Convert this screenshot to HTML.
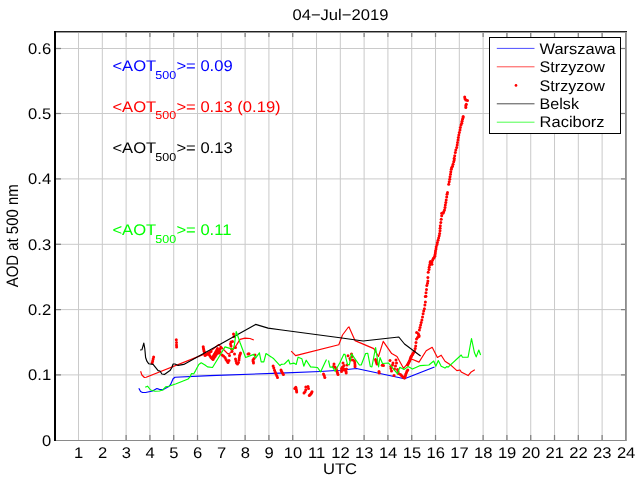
<!DOCTYPE html>
<html><head><meta charset="utf-8"><title>04-Jul-2019</title>
<style>html,body{margin:0;padding:0;background:#fff;width:640px;height:480px;overflow:hidden}svg{display:block;will-change:transform;opacity:0.999}text{font-family:"Liberation Sans",sans-serif;text-rendering:geometricPrecision;}</style></head><body>
<svg width="640" height="480" viewBox="0 0 640 480">
<rect x="0" y="0" width="640" height="480" fill="#fff"/>
<g stroke="#cacaca" stroke-width="1" fill="none">
<line x1="78.52" y1="32" x2="78.52" y2="440"/>
<line x1="102.32" y1="32" x2="102.32" y2="440"/>
<line x1="126.12" y1="32" x2="126.12" y2="440"/>
<line x1="149.92" y1="32" x2="149.92" y2="440"/>
<line x1="173.72" y1="32" x2="173.72" y2="440"/>
<line x1="197.52" y1="32" x2="197.52" y2="440"/>
<line x1="221.32" y1="32" x2="221.32" y2="440"/>
<line x1="245.12" y1="32" x2="245.12" y2="440"/>
<line x1="268.92" y1="32" x2="268.92" y2="440"/>
<line x1="292.72" y1="32" x2="292.72" y2="440"/>
<line x1="316.52" y1="32" x2="316.52" y2="440"/>
<line x1="340.32" y1="32" x2="340.32" y2="440"/>
<line x1="364.12" y1="32" x2="364.12" y2="440"/>
<line x1="387.92" y1="32" x2="387.92" y2="440"/>
<line x1="411.72" y1="32" x2="411.72" y2="440"/>
<line x1="435.52" y1="32" x2="435.52" y2="440"/>
<line x1="459.32" y1="32" x2="459.32" y2="440"/>
<line x1="483.12" y1="32" x2="483.12" y2="440"/>
<line x1="506.92" y1="32" x2="506.92" y2="440"/>
<line x1="530.72" y1="32" x2="530.72" y2="440"/>
<line x1="554.52" y1="32" x2="554.52" y2="440"/>
<line x1="578.32" y1="32" x2="578.32" y2="440"/>
<line x1="602.12" y1="32" x2="602.12" y2="440"/>
<line x1="56" y1="374.90" x2="626" y2="374.90"/>
<line x1="56" y1="309.60" x2="626" y2="309.60"/>
<line x1="56" y1="244.30" x2="626" y2="244.30"/>
<line x1="56" y1="178.90" x2="626" y2="178.90"/>
<line x1="56" y1="113.50" x2="626" y2="113.50"/>
<line x1="56" y1="48.50" x2="626" y2="48.50"/>
</g>
<g stroke="#808080" stroke-width="1.25" fill="none">
<line x1="126.12" y1="435" x2="126.12" y2="440"/>
<line x1="126.12" y1="32" x2="126.12" y2="37"/>
<line x1="149.92" y1="435" x2="149.92" y2="440"/>
<line x1="149.92" y1="32" x2="149.92" y2="37"/>
<line x1="173.72" y1="435" x2="173.72" y2="440"/>
<line x1="173.72" y1="32" x2="173.72" y2="37"/>
<line x1="197.52" y1="435" x2="197.52" y2="440"/>
<line x1="197.52" y1="32" x2="197.52" y2="37"/>
<line x1="245.12" y1="435" x2="245.12" y2="440"/>
<line x1="245.12" y1="32" x2="245.12" y2="37"/>
<line x1="268.92" y1="435" x2="268.92" y2="440"/>
<line x1="268.92" y1="32" x2="268.92" y2="37"/>
<line x1="292.72" y1="435" x2="292.72" y2="440"/>
<line x1="292.72" y1="32" x2="292.72" y2="37"/>
<line x1="364.12" y1="435" x2="364.12" y2="440"/>
<line x1="364.12" y1="32" x2="364.12" y2="37"/>
<line x1="387.92" y1="435" x2="387.92" y2="440"/>
<line x1="387.92" y1="32" x2="387.92" y2="37"/>
<line x1="411.72" y1="435" x2="411.72" y2="440"/>
<line x1="411.72" y1="32" x2="411.72" y2="37"/>
<line x1="435.52" y1="435" x2="435.52" y2="440"/>
<line x1="435.52" y1="32" x2="435.52" y2="37"/>
<line x1="483.12" y1="435" x2="483.12" y2="440"/>
<line x1="483.12" y1="32" x2="483.12" y2="37"/>
<line x1="506.92" y1="435" x2="506.92" y2="440"/>
<line x1="506.92" y1="32" x2="506.92" y2="37"/>
<line x1="530.72" y1="435" x2="530.72" y2="440"/>
<line x1="530.72" y1="32" x2="530.72" y2="37"/>
<line x1="554.52" y1="435" x2="554.52" y2="440"/>
<line x1="554.52" y1="32" x2="554.52" y2="37"/>
<line x1="578.32" y1="435" x2="578.32" y2="440"/>
<line x1="578.32" y1="32" x2="578.32" y2="37"/>
<line x1="602.12" y1="435" x2="602.12" y2="440"/>
<line x1="602.12" y1="32" x2="602.12" y2="37"/>
<line x1="621" y1="374.90" x2="626" y2="374.90"/>
<line x1="56" y1="374.90" x2="61" y2="374.90"/>
<line x1="621" y1="309.60" x2="626" y2="309.60"/>
<line x1="56" y1="309.60" x2="61" y2="309.60"/>
<line x1="621" y1="244.30" x2="626" y2="244.30"/>
<line x1="56" y1="244.30" x2="61" y2="244.30"/>
<line x1="621" y1="178.90" x2="626" y2="178.90"/>
<line x1="56" y1="178.90" x2="61" y2="178.90"/>
<line x1="621" y1="113.50" x2="626" y2="113.50"/>
<line x1="56" y1="113.50" x2="61" y2="113.50"/>
<line x1="621" y1="48.50" x2="626" y2="48.50"/>
<line x1="56" y1="48.50" x2="61" y2="48.50"/>
</g>
<g shape-rendering="crispEdges">
<rect x="56" y="440" width="571" height="1" fill="#8a8a8a"/>
<rect x="625" y="32" width="1" height="409" fill="#8c8c8c"/>
<rect x="626" y="32" width="1" height="409" fill="#a0a0a0"/>
<rect x="54" y="31" width="573" height="1" fill="#222"/>
<rect x="56" y="32" width="571" height="1" fill="#9a9a9a"/>
<rect x="54" y="31" width="2" height="410" fill="#000"/>
</g>
<g fill="none" stroke-width="1.15" stroke-linejoin="round" stroke-linecap="butt">
<polyline stroke="#0000ff" points="138.8,388.3 140.6,391.5 142.5,392.5 145.6,392.5 152.5,391.0 156.9,388.5 159.4,389.4 162.8,389.8 168.8,386.5 170.6,384.4 173.1,378.8 175.0,377.2 210.0,375.6 280.0,373.1 320.0,371.5 340.0,370.3 356.5,368.5 404.5,378.8 434.5,367.0"/>
<polyline stroke="#ff0000" points="140.6,371.2 141.9,375.0 144.4,377.5 146.2,377.2 210.0,351.9 218.6,344.5 228.0,354.0 231.0,352.5 234.4,348.0 236.9,344.4 240.0,339.4 245.0,338.1 250.0,338.5 253.8,340.0"/>
<polyline stroke="#ff0000" points="291.2,351.2 295.6,355.6 338.8,344.8 342.5,335.0 348.1,327.5 349.0,326.9 355.0,340.6 373.8,348.6 378.5,356.5 383.2,341.4 391.7,353.6 397.0,356.5 403.5,368.3 411.5,359.0 419.0,362.1 426.2,350.7 432.2,347.3 437.4,357.5 441.2,355.2 445.0,361.2 450.0,364.4 456.9,370.6 460.0,370.0 461.2,371.9 468.1,375.6 471.2,371.9 474.8,369.8"/>
</g>
<g fill="#ff0000">
<circle cx="153.6" cy="356.9" r="1.5"/>
<circle cx="153.1" cy="359.0" r="1.5"/>
<circle cx="152.7" cy="360.9" r="1.5"/>
<circle cx="152.2" cy="362.8" r="1.5"/>
<circle cx="176.3" cy="339.8" r="1.5"/>
<circle cx="176.5" cy="342.5" r="1.5"/>
<circle cx="176.5" cy="345.0" r="1.5"/>
<circle cx="176.6" cy="347.1" r="1.5"/>
<circle cx="203.2" cy="346.8" r="1.5"/>
<circle cx="203.5" cy="348.5" r="1.5"/>
<circle cx="203.8" cy="350.0" r="1.5"/>
<circle cx="204.2" cy="351.5" r="1.5"/>
<circle cx="204.8" cy="352.8" r="1.5"/>
<circle cx="205.0" cy="355.5" r="1.5"/>
<circle cx="206.2" cy="354.7" r="1.5"/>
<circle cx="207.4" cy="353.9" r="1.5"/>
<circle cx="208.6" cy="353.1" r="1.5"/>
<circle cx="209.8" cy="352.3" r="1.5"/>
<circle cx="211.0" cy="351.5" r="1.5"/>
<circle cx="212.0" cy="358.5" r="1.5"/>
<circle cx="212.8" cy="357.1" r="1.5"/>
<circle cx="213.6" cy="355.7" r="1.5"/>
<circle cx="214.4" cy="354.3" r="1.5"/>
<circle cx="215.2" cy="352.9" r="1.5"/>
<circle cx="216.0" cy="351.5" r="1.5"/>
<circle cx="216.8" cy="350.0" r="1.5"/>
<circle cx="217.5" cy="348.5" r="1.5"/>
<circle cx="214.0" cy="358.0" r="1.5"/>
<circle cx="215.0" cy="356.5" r="1.5"/>
<circle cx="216.0" cy="355.0" r="1.5"/>
<circle cx="217.0" cy="353.5" r="1.5"/>
<circle cx="218.0" cy="352.0" r="1.5"/>
<circle cx="219.0" cy="350.5" r="1.5"/>
<circle cx="220.0" cy="349.0" r="1.5"/>
<circle cx="221.0" cy="347.5" r="1.5"/>
<circle cx="210.0" cy="356.0" r="1.5"/>
<circle cx="211.0" cy="357.5" r="1.5"/>
<circle cx="213.0" cy="359.5" r="1.5"/>
<circle cx="209.0" cy="354.5" r="1.5"/>
<circle cx="219.0" cy="353.0" r="1.5"/>
<circle cx="220.0" cy="352.0" r="1.5"/>
<circle cx="222.0" cy="355.0" r="1.5"/>
<circle cx="223.5" cy="356.0" r="1.5"/>
<circle cx="225.0" cy="357.5" r="1.5"/>
<circle cx="226.0" cy="359.5" r="1.5"/>
<circle cx="227.0" cy="361.0" r="1.5"/>
<circle cx="228.0" cy="362.5" r="1.5"/>
<circle cx="229.0" cy="360.5" r="1.5"/>
<circle cx="229.5" cy="355.5" r="1.5"/>
<circle cx="233.5" cy="334.0" r="1.5"/>
<circle cx="234.0" cy="336.5" r="1.5"/>
<circle cx="231.0" cy="342.0" r="1.5"/>
<circle cx="230.5" cy="344.0" r="1.5"/>
<circle cx="232.5" cy="341.5" r="1.5"/>
<circle cx="231.0" cy="346.0" r="1.5"/>
<circle cx="231.5" cy="349.0" r="1.5"/>
<circle cx="232.0" cy="351.5" r="1.5"/>
<circle cx="234.5" cy="354.0" r="1.5"/>
<circle cx="235.5" cy="347.5" r="1.5"/>
<circle cx="235.5" cy="359.0" r="1.5"/>
<circle cx="236.0" cy="361.0" r="1.5"/>
<circle cx="236.5" cy="363.0" r="1.5"/>
<circle cx="237.5" cy="364.0" r="1.5"/>
<circle cx="238.5" cy="362.5" r="1.5"/>
<circle cx="239.0" cy="360.0" r="1.5"/>
<circle cx="239.2" cy="358.0" r="1.5"/>
<circle cx="239.5" cy="356.0" r="1.5"/>
<circle cx="240.0" cy="354.5" r="1.5"/>
<circle cx="240.5" cy="353.0" r="1.5"/>
<circle cx="248.0" cy="354.0" r="1.5"/>
<circle cx="249.0" cy="353.8" r="1.5"/>
<circle cx="255.0" cy="355.0" r="1.5"/>
<circle cx="254.0" cy="358.5" r="1.5"/>
<circle cx="253.0" cy="360.0" r="1.5"/>
<circle cx="253.2" cy="361.5" r="1.5"/>
<circle cx="253.5" cy="363.0" r="1.5"/>
<circle cx="273.1" cy="366.0" r="1.5"/>
<circle cx="273.8" cy="368.0" r="1.5"/>
<circle cx="274.5" cy="370.2" r="1.5"/>
<circle cx="275.3" cy="372.2" r="1.5"/>
<circle cx="276.0" cy="374.0" r="1.5"/>
<circle cx="276.8" cy="375.7" r="1.5"/>
<circle cx="277.5" cy="377.5" r="1.5"/>
<circle cx="281.0" cy="370.0" r="1.5"/>
<circle cx="281.6" cy="371.5" r="1.5"/>
<circle cx="282.5" cy="373.1" r="1.5"/>
<circle cx="283.4" cy="374.4" r="1.5"/>
<circle cx="294.8" cy="388.5" r="1.5"/>
<circle cx="295.8" cy="387.2" r="1.5"/>
<circle cx="296.2" cy="389.0" r="1.5"/>
<circle cx="296.5" cy="390.5" r="1.5"/>
<circle cx="296.7" cy="392.0" r="1.5"/>
<circle cx="305.8" cy="387.0" r="1.5"/>
<circle cx="308.0" cy="386.5" r="1.5"/>
<circle cx="308.5" cy="388.5" r="1.5"/>
<circle cx="305.8" cy="389.8" r="1.5"/>
<circle cx="305.0" cy="391.8" r="1.5"/>
<circle cx="304.0" cy="393.0" r="1.5"/>
<circle cx="312.0" cy="391.8" r="1.5"/>
<circle cx="311.5" cy="393.0" r="1.5"/>
<circle cx="310.8" cy="394.0" r="1.5"/>
<circle cx="310.0" cy="394.8" r="1.5"/>
<circle cx="309.3" cy="395.5" r="1.5"/>
<circle cx="323.5" cy="374.0" r="1.5"/>
<circle cx="324.2" cy="375.5" r="1.5"/>
<circle cx="324.8" cy="377.5" r="1.5"/>
<circle cx="334.0" cy="364.0" r="1.5"/>
<circle cx="333.5" cy="366.5" r="1.5"/>
<circle cx="335.0" cy="367.0" r="1.5"/>
<circle cx="336.0" cy="368.5" r="1.5"/>
<circle cx="336.5" cy="370.0" r="1.5"/>
<circle cx="337.0" cy="371.5" r="1.5"/>
<circle cx="337.5" cy="373.0" r="1.5"/>
<circle cx="338.0" cy="374.5" r="1.5"/>
<circle cx="343.0" cy="363.0" r="1.5"/>
<circle cx="344.0" cy="365.5" r="1.5"/>
<circle cx="342.5" cy="367.0" r="1.5"/>
<circle cx="341.5" cy="368.5" r="1.5"/>
<circle cx="343.5" cy="368.5" r="1.5"/>
<circle cx="342.0" cy="370.0" r="1.5"/>
<circle cx="344.0" cy="370.0" r="1.5"/>
<circle cx="341.5" cy="371.5" r="1.5"/>
<circle cx="345.5" cy="369.5" r="1.5"/>
<circle cx="346.5" cy="369.0" r="1.5"/>
<circle cx="346.0" cy="371.5" r="1.5"/>
<circle cx="346.2" cy="373.0" r="1.5"/>
<circle cx="347.0" cy="365.0" r="1.5"/>
<circle cx="348.0" cy="355.8" r="1.5"/>
<circle cx="351.5" cy="354.0" r="1.5"/>
<circle cx="352.0" cy="356.5" r="1.5"/>
<circle cx="350.0" cy="358.5" r="1.5"/>
<circle cx="350.5" cy="360.0" r="1.5"/>
<circle cx="353.0" cy="360.0" r="1.5"/>
<circle cx="354.5" cy="361.0" r="1.5"/>
<circle cx="354.8" cy="363.0" r="1.5"/>
<circle cx="355.0" cy="365.0" r="1.5"/>
<circle cx="355.0" cy="366.8" r="1.5"/>
<circle cx="375.5" cy="359.5" r="1.5"/>
<circle cx="376.0" cy="361.0" r="1.5"/>
<circle cx="376.5" cy="362.5" r="1.5"/>
<circle cx="377.0" cy="364.0" r="1.5"/>
<circle cx="379.0" cy="371.5" r="1.5"/>
<circle cx="379.2" cy="373.0" r="1.5"/>
<circle cx="382.2" cy="365.3" r="1.5"/>
<circle cx="383.5" cy="365.5" r="1.5"/>
<circle cx="390.0" cy="360.5" r="1.5"/>
<circle cx="393.0" cy="363.0" r="1.5"/>
<circle cx="392.5" cy="365.0" r="1.5"/>
<circle cx="390.8" cy="366.5" r="1.5"/>
<circle cx="391.0" cy="368.5" r="1.5"/>
<circle cx="391.5" cy="371.0" r="1.5"/>
<circle cx="394.0" cy="375.5" r="1.5"/>
<circle cx="396.0" cy="360.0" r="1.5"/>
<circle cx="396.5" cy="363.0" r="1.5"/>
<circle cx="395.5" cy="366.0" r="1.5"/>
<circle cx="394.5" cy="369.0" r="1.5"/>
<circle cx="397.5" cy="369.5" r="1.5"/>
<circle cx="398.0" cy="371.5" r="1.5"/>
<circle cx="398.5" cy="373.5" r="1.5"/>
<circle cx="400.5" cy="374.5" r="1.5"/>
<circle cx="401.5" cy="375.5" r="1.5"/>
<circle cx="402.5" cy="376.5" r="1.5"/>
<circle cx="403.5" cy="377.5" r="1.5"/>
<circle cx="404.5" cy="378.0" r="1.5"/>
<circle cx="405.0" cy="377.0" r="1.5"/>
<circle cx="405.5" cy="375.5" r="1.5"/>
<circle cx="405.8" cy="374.0" r="1.5"/>
<circle cx="406.5" cy="372.5" r="1.5"/>
<circle cx="407.0" cy="371.0" r="1.5"/>
<circle cx="407.8" cy="370.0" r="1.5"/>
<circle cx="407.5" cy="365.0" r="1.5"/>
<circle cx="408.0" cy="364.0" r="1.5"/>
<circle cx="408.5" cy="363.0" r="1.5"/>
<circle cx="409.0" cy="362.0" r="1.5"/>
<circle cx="409.5" cy="361.0" r="1.5"/>
<circle cx="410.0" cy="360.0" r="1.5"/>
<circle cx="410.3" cy="358.8" r="1.5"/>
<circle cx="410.8" cy="357.5" r="1.5"/>
<circle cx="411.2" cy="356.5" r="1.5"/>
<circle cx="411.8" cy="355.5" r="1.5"/>
<circle cx="412.5" cy="354.5" r="1.5"/>
<circle cx="413.0" cy="353.5" r="1.5"/>
<circle cx="413.5" cy="352.5" r="1.5"/>
<circle cx="414.5" cy="351.0" r="1.5"/>
<circle cx="415.2" cy="348.5" r="1.5"/>
<circle cx="415.7" cy="346.0" r="1.5"/>
<circle cx="416.0" cy="342.5" r="1.5"/>
<circle cx="416.5" cy="339.0" r="1.5"/>
<circle cx="417.5" cy="337.5" r="1.5"/>
<circle cx="419.0" cy="336.5" r="1.5"/>
<circle cx="418.3" cy="333.8" r="1.5"/>
<circle cx="419.4" cy="330.0" r="1.5"/>
<circle cx="416.6" cy="332.4" r="1.5"/>
<circle cx="418.9" cy="335.2" r="1.5"/>
<circle cx="420.6" cy="325.0" r="1.5"/>
<circle cx="421.9" cy="320.0" r="1.5"/>
<circle cx="423.1" cy="313.8" r="1.5"/>
<circle cx="424.4" cy="308.8" r="1.5"/>
<circle cx="425.4" cy="301.9" r="1.5"/>
<circle cx="425.9" cy="296.2" r="1.5"/>
<circle cx="420.0" cy="327.5" r="1.5"/>
<circle cx="421.2" cy="322.5" r="1.5"/>
<circle cx="422.5" cy="317.0" r="1.5"/>
<circle cx="423.7" cy="311.0" r="1.5"/>
<circle cx="424.9" cy="305.0" r="1.5"/>
<circle cx="425.3" cy="296.4" r="1.5"/>
<circle cx="426.0" cy="292.7" r="1.5"/>
<circle cx="426.5" cy="289.5" r="1.5"/>
<circle cx="426.8" cy="285.4" r="1.5"/>
<circle cx="427.5" cy="283.2" r="1.5"/>
<circle cx="427.9" cy="281.0" r="1.5"/>
<circle cx="427.9" cy="277.4" r="1.5"/>
<circle cx="428.2" cy="272.3" r="1.5"/>
<circle cx="429.0" cy="269.4" r="1.5"/>
<circle cx="429.2" cy="267.2" r="1.5"/>
<circle cx="429.7" cy="265.0" r="1.5"/>
<circle cx="430.1" cy="262.8" r="1.5"/>
<circle cx="430.4" cy="261.4" r="1.5"/>
<circle cx="431.9" cy="264.3" r="1.5"/>
<circle cx="431.9" cy="262.0" r="1.5"/>
<circle cx="432.6" cy="259.9" r="1.5"/>
<circle cx="433.3" cy="258.4" r="1.5"/>
<circle cx="434.0" cy="257.7" r="1.5"/>
<circle cx="434.8" cy="256.2" r="1.5"/>
<circle cx="435.0" cy="254.8" r="1.5"/>
<circle cx="435.5" cy="251.1" r="1.5"/>
<circle cx="436.0" cy="249.0" r="1.5"/>
<circle cx="436.2" cy="246.8" r="1.5"/>
<circle cx="437.0" cy="244.6" r="1.5"/>
<circle cx="437.4" cy="242.4" r="1.5"/>
<circle cx="438.0" cy="240.2" r="1.5"/>
<circle cx="438.6" cy="238.0" r="1.5"/>
<circle cx="439.2" cy="235.8" r="1.5"/>
<circle cx="439.6" cy="233.6" r="1.5"/>
<circle cx="440.0" cy="230.7" r="1.5"/>
<circle cx="435.3" cy="253.0" r="1.5"/>
<circle cx="440.3" cy="225.8" r="1.5"/>
<circle cx="440.8" cy="222.5" r="1.5"/>
<circle cx="441.2" cy="219.2" r="1.5"/>
<circle cx="441.7" cy="215.8" r="1.5"/>
<circle cx="441.7" cy="213.3" r="1.5"/>
<circle cx="443.0" cy="213.3" r="1.5"/>
<circle cx="443.7" cy="211.7" r="1.5"/>
<circle cx="444.5" cy="210.0" r="1.5"/>
<circle cx="445.0" cy="207.5" r="1.5"/>
<circle cx="445.3" cy="205.0" r="1.5"/>
<circle cx="445.8" cy="202.5" r="1.5"/>
<circle cx="446.2" cy="200.0" r="1.5"/>
<circle cx="446.7" cy="197.0" r="1.5"/>
<circle cx="447.0" cy="194.2" r="1.5"/>
<circle cx="447.5" cy="192.5" r="1.5"/>
<circle cx="440.1" cy="228.2" r="1.5"/>
<circle cx="448.7" cy="184.2" r="1.5"/>
<circle cx="449.2" cy="181.7" r="1.5"/>
<circle cx="449.7" cy="179.2" r="1.5"/>
<circle cx="450.0" cy="176.7" r="1.5"/>
<circle cx="450.5" cy="174.2" r="1.5"/>
<circle cx="450.8" cy="171.7" r="1.5"/>
<circle cx="451.3" cy="169.2" r="1.5"/>
<circle cx="451.7" cy="167.5" r="1.5"/>
<circle cx="452.5" cy="166.3" r="1.5"/>
<circle cx="453.0" cy="164.2" r="1.5"/>
<circle cx="453.7" cy="161.7" r="1.5"/>
<circle cx="454.2" cy="160.0" r="1.5"/>
<circle cx="454.2" cy="158.3" r="1.5"/>
<circle cx="454.7" cy="155.8" r="1.5"/>
<circle cx="455.3" cy="152.5" r="1.5"/>
<circle cx="455.8" cy="150.0" r="1.5"/>
<circle cx="456.7" cy="147.5" r="1.5"/>
<circle cx="457.2" cy="145.0" r="1.5"/>
<circle cx="457.5" cy="142.5" r="1.5"/>
<circle cx="458.0" cy="140.0" r="1.5"/>
<circle cx="458.3" cy="137.5" r="1.5"/>
<circle cx="458.8" cy="135.0" r="1.5"/>
<circle cx="459.3" cy="132.5" r="1.5"/>
<circle cx="460.0" cy="130.0" r="1.5"/>
<circle cx="460.3" cy="127.5" r="1.5"/>
<circle cx="461.0" cy="125.0" r="1.5"/>
<circle cx="461.7" cy="123.3" r="1.5"/>
<circle cx="462.0" cy="121.3" r="1.5"/>
<circle cx="462.5" cy="119.2" r="1.5"/>
<circle cx="463.0" cy="117.8" r="1.5"/>
<circle cx="463.2" cy="116.5" r="1.5"/>
<circle cx="465.8" cy="107.5" r="1.5"/>
<circle cx="465.8" cy="105.8" r="1.5"/>
<circle cx="466.3" cy="104.2" r="1.5"/>
<circle cx="467.5" cy="100.5" r="1.5"/>
<circle cx="465.8" cy="100.0" r="1.5"/>
<circle cx="465.0" cy="98.7" r="1.5"/>
<circle cx="464.7" cy="97.0" r="1.5"/>
</g>
<g fill="none" stroke-width="1.15" stroke-linejoin="round" stroke-linecap="butt">
<polyline stroke="#000000" points="140.0,350.0 141.9,349.8 143.8,343.1 144.8,348.8 145.6,357.5 146.9,361.2 148.8,363.8 153.1,364.4 158.1,370.6 160.0,371.0 161.9,374.0 164.4,374.4 170.0,370.6 171.9,367.5 173.1,364.0 175.0,364.0 178.1,365.4 183.8,364.4 200.0,355.6 255.6,324.4 268.1,328.1 280.0,329.8 340.0,337.8 363.1,341.0 398.8,337.0 404.5,344.0 420.6,356.0"/>
<polyline stroke="#00ff00" points="145.2,387.2 147.5,386.2 150.6,390.0 155.0,391.2 159.4,391.0 162.8,390.0 165.6,386.9 168.8,386.2 172.5,385.0 176.2,383.8 182.5,381.2 188.1,379.0 190.0,376.9 191.5,373.5 193.8,373.8 195.6,370.6 198.8,364.4 201.2,362.8 205.0,365.0 207.5,366.9 212.5,367.5 219.4,356.2 225.0,346.9 233.1,349.4 234.4,345.0 236.2,331.5 237.5,335.0 240.0,342.5 245.6,357.5 253.8,354.4 255.6,358.1 259.4,352.8 261.2,361.9 263.8,361.9 266.0,353.5 271.2,356.9 273.8,358.8 280.0,365.6 281.2,364.4 284.4,364.0 288.5,359.8 290.0,364.0 293.8,363.1 296.2,364.4 298.1,357.2 301.9,358.8 303.8,366.2 306.2,360.2 310.6,366.9 317.5,367.5 320.6,371.9 325.0,362.5 326.5,359.5"/>
<polyline stroke="#00ff00" points="328.5,360.5 330.0,367.2 332.5,366.9 335.0,371.2 340.0,362.5 343.8,354.2 345.0,354.4 347.5,364.4 349.4,364.8 351.5,353.8 359.4,365.0 361.2,365.0 365.6,353.5 367.8,353.3 370.3,366.5 371.9,366.9 375.6,347.5 378.6,367.0 380.0,357.5 382.5,363.5 388.5,363.0 397.5,373.8 399.8,367.3 404.0,369.5 408.0,366.6 412.5,369.1 420.3,365.6 428.9,365.0 433.7,361.0 435.8,366.2 438.3,360.6 441.2,366.2 445.0,368.1 446.9,366.5 448.1,367.2 461.2,355.0 462.5,357.2 468.1,357.2 471.5,338.5 474.4,352.5 476.2,356.9 478.8,350.0 480.6,355.0"/>
</g>
<text transform="translate(78.72,458.20) scale(1.078,1)" font-size="15.40" fill="#000" text-anchor="middle" letter-spacing="0.00">1</text>
<text transform="translate(102.52,458.20) scale(1.078,1)" font-size="15.40" fill="#000" text-anchor="middle" letter-spacing="0.00">2</text>
<text transform="translate(126.32,458.20) scale(1.078,1)" font-size="15.40" fill="#000" text-anchor="middle" letter-spacing="0.00">3</text>
<text transform="translate(150.12,458.20) scale(1.078,1)" font-size="15.40" fill="#000" text-anchor="middle" letter-spacing="0.00">4</text>
<text transform="translate(173.92,458.20) scale(1.078,1)" font-size="15.40" fill="#000" text-anchor="middle" letter-spacing="0.00">5</text>
<text transform="translate(197.72,458.20) scale(1.078,1)" font-size="15.40" fill="#000" text-anchor="middle" letter-spacing="0.00">6</text>
<text transform="translate(221.52,458.20) scale(1.078,1)" font-size="15.40" fill="#000" text-anchor="middle" letter-spacing="0.00">7</text>
<text transform="translate(245.32,458.20) scale(1.078,1)" font-size="15.40" fill="#000" text-anchor="middle" letter-spacing="0.00">8</text>
<text transform="translate(269.12,458.20) scale(1.078,1)" font-size="15.40" fill="#000" text-anchor="middle" letter-spacing="0.00">9</text>
<text transform="translate(292.92,458.20) scale(1.078,1)" font-size="15.40" fill="#000" text-anchor="middle" letter-spacing="0.00">10</text>
<text transform="translate(316.72,458.20) scale(1.078,1)" font-size="15.40" fill="#000" text-anchor="middle" letter-spacing="0.00">11</text>
<text transform="translate(340.52,458.20) scale(1.078,1)" font-size="15.40" fill="#000" text-anchor="middle" letter-spacing="0.00">12</text>
<text transform="translate(364.32,458.20) scale(1.078,1)" font-size="15.40" fill="#000" text-anchor="middle" letter-spacing="0.00">13</text>
<text transform="translate(388.12,458.20) scale(1.078,1)" font-size="15.40" fill="#000" text-anchor="middle" letter-spacing="0.00">14</text>
<text transform="translate(411.92,458.20) scale(1.078,1)" font-size="15.40" fill="#000" text-anchor="middle" letter-spacing="0.00">15</text>
<text transform="translate(435.72,458.20) scale(1.078,1)" font-size="15.40" fill="#000" text-anchor="middle" letter-spacing="0.00">16</text>
<text transform="translate(459.52,458.20) scale(1.078,1)" font-size="15.40" fill="#000" text-anchor="middle" letter-spacing="0.00">17</text>
<text transform="translate(483.32,458.20) scale(1.078,1)" font-size="15.40" fill="#000" text-anchor="middle" letter-spacing="0.00">18</text>
<text transform="translate(507.12,458.20) scale(1.078,1)" font-size="15.40" fill="#000" text-anchor="middle" letter-spacing="0.00">19</text>
<text transform="translate(530.92,458.20) scale(1.078,1)" font-size="15.40" fill="#000" text-anchor="middle" letter-spacing="0.00">20</text>
<text transform="translate(554.72,458.20) scale(1.078,1)" font-size="15.40" fill="#000" text-anchor="middle" letter-spacing="0.00">21</text>
<text transform="translate(578.52,458.20) scale(1.078,1)" font-size="15.40" fill="#000" text-anchor="middle" letter-spacing="0.00">22</text>
<text transform="translate(602.32,458.20) scale(1.078,1)" font-size="15.40" fill="#000" text-anchor="middle" letter-spacing="0.00">23</text>
<text transform="translate(626.12,458.20) scale(1.078,1)" font-size="15.40" fill="#000" text-anchor="middle" letter-spacing="0.00">24</text>
<text transform="translate(51.20,445.70) scale(1.078,1)" font-size="15.40" fill="#000" text-anchor="end" letter-spacing="0.00">0</text>
<text transform="translate(51.20,380.10) scale(1.078,1)" font-size="15.40" fill="#000" text-anchor="end" letter-spacing="0.00">0.1</text>
<text transform="translate(51.20,314.80) scale(1.078,1)" font-size="15.40" fill="#000" text-anchor="end" letter-spacing="0.00">0.2</text>
<text transform="translate(51.20,249.50) scale(1.078,1)" font-size="15.40" fill="#000" text-anchor="end" letter-spacing="0.00">0.3</text>
<text transform="translate(51.20,184.10) scale(1.078,1)" font-size="15.40" fill="#000" text-anchor="end" letter-spacing="0.00">0.4</text>
<text transform="translate(51.20,118.70) scale(1.078,1)" font-size="15.40" fill="#000" text-anchor="end" letter-spacing="0.00">0.5</text>
<text transform="translate(51.20,53.70) scale(1.078,1)" font-size="15.40" fill="#000" text-anchor="end" letter-spacing="0.00">0.6</text>
<text transform="translate(340.00,474.00) scale(1.078,1)" font-size="15.40" fill="#000" text-anchor="middle" letter-spacing="0.00">UTC</text>
<text transform="translate(340.40,19.80) scale(1.078,1)" font-size="15.40" fill="#000" text-anchor="middle" letter-spacing="0.00">04−Jul−2019</text>
<text transform="translate(17.6,235.8) rotate(-90) scale(0.969,1.078)" font-size="15.40" text-anchor="middle" fill="#000">AOD at 500 nm</text>
<text transform="translate(112.40,71.00) scale(1.078,1)" font-size="15.40" fill="#0000ff" text-anchor="start" letter-spacing="0.00">&lt;AOT<tspan font-size="11.6" dy="7.6" dx="-0.8">500</tspan><tspan dy="-7.6" dx="0.2">&gt;= 0.09</tspan></text>
<text transform="translate(112.40,111.60) scale(1.078,1)" font-size="15.40" fill="#ff0000" text-anchor="start" letter-spacing="0.00">&lt;AOT<tspan font-size="11.6" dy="7.6" dx="-0.8">500</tspan><tspan dy="-7.6" dx="0.2">&gt;= 0.13 (0.19)</tspan></text>
<text transform="translate(112.40,153.20) scale(1.078,1)" font-size="15.40" fill="#000000" text-anchor="start" letter-spacing="0.00">&lt;AOT<tspan font-size="11.6" dy="7.6" dx="-0.8">500</tspan><tspan dy="-7.6" dx="0.2">&gt;= 0.13</tspan></text>
<text transform="translate(112.40,234.90) scale(1.078,1)" font-size="15.40" fill="#00ff00" text-anchor="start" letter-spacing="0.00">&lt;AOT<tspan font-size="11.6" dy="7.6" dx="-0.8">500</tspan><tspan dy="-7.6" dx="0.2">&gt;= 0.11</tspan></text>
<g shape-rendering="crispEdges"><rect x="489.5" y="37.5" width="131" height="96" fill="#fff" stroke="#000" stroke-width="1"/></g>
<line x1="496.8" y1="48.4" x2="534.5" y2="48.4" stroke="#0000ff" stroke-width="0.7"/>
<text transform="translate(539.60,53.60) scale(1.067,1)" font-size="15.40" fill="#000" text-anchor="start" letter-spacing="0.00">Warszawa</text>
<line x1="496.8" y1="66.8" x2="534.5" y2="66.8" stroke="#ff0000" stroke-width="0.7"/>
<text transform="translate(539.60,72.00) scale(1.046,1)" font-size="15.40" fill="#000" text-anchor="start" letter-spacing="0.00">Strzyzow</text>
<circle cx="516" cy="85.4" r="1.35" fill="#ff0000"/>
<text transform="translate(539.60,90.60) scale(1.046,1)" font-size="15.40" fill="#000" text-anchor="start" letter-spacing="0.00">Strzyzow</text>
<line x1="496.8" y1="103.8" x2="534.5" y2="103.8" stroke="#000000" stroke-width="0.7"/>
<text transform="translate(539.60,109.00) scale(1.045,1)" font-size="15.40" fill="#000" text-anchor="start" letter-spacing="0.00">Belsk</text>
<line x1="496.8" y1="122.2" x2="534.5" y2="122.2" stroke="#00ff00" stroke-width="0.7"/>
<text transform="translate(539.60,127.40) scale(1.070,1)" font-size="15.40" fill="#000" text-anchor="start" letter-spacing="0.00">Raciborz</text>
</svg></body></html>
